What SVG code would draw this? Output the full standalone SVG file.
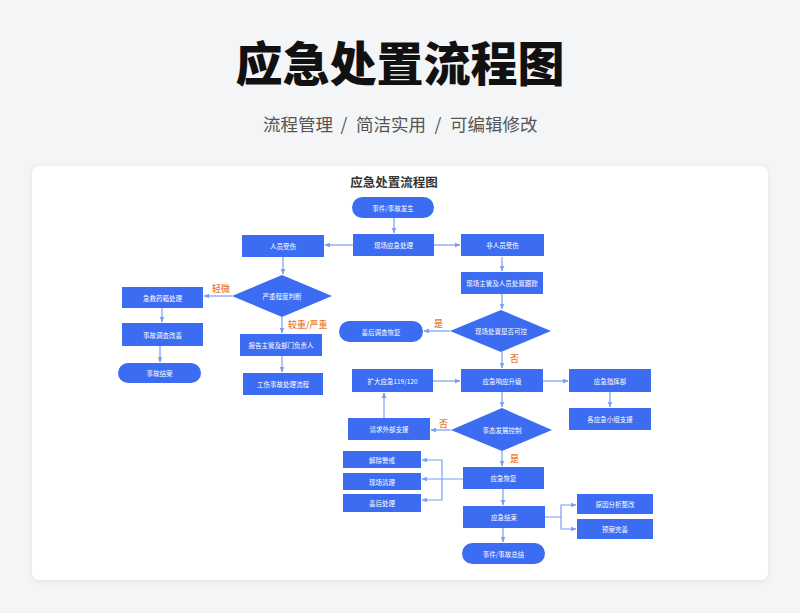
<svg xmlns="http://www.w3.org/2000/svg" width="800" height="613" viewBox="0 0 800 613">
<defs>
<style>
.t{font-family:"Noto Sans CJK SC","Noto Sans",sans-serif;}
.st{font-family:"Noto Sans CJK SC","Noto Sans",sans-serif;font-size:17.5px;fill:#555;}
.n rect,.n path{fill:#3b6cf2;}
.n text{font-family:"Noto Sans CJK SC","Noto Sans",sans-serif;font-size:6.5px;fill:#ffffff;text-anchor:middle;dominant-baseline:central;}
.c path{fill:none;stroke:#7a9ef2;stroke-width:1.2;}
.lb{font-family:"Noto Sans CJK SC","Noto Sans",sans-serif;font-size:9px;fill:#e8792c;font-weight:500;}
</style>
<marker id="ar" viewBox="0 0 10 10" refX="9" refY="5" markerWidth="6" markerHeight="6" orient="auto" markerUnits="userSpaceOnUse">
<path d="M0,1 L10,5 L0,9 z" fill="#7a9ef2"/>
</marker>
<filter id="sh" x="-5%" y="-5%" width="110%" height="110%">
<feDropShadow dx="0" dy="1" stdDeviation="3" flood-color="#000" flood-opacity="0.08"/>
</filter>
</defs>
<rect x="0" y="0" width="800" height="613" fill="#f4f5f7"/>
<text class="t" x="400" y="81" font-size="47" font-weight="900" fill="#111" text-anchor="middle">应急处置流程图</text>
<text class="st" x="263" y="131">流程管理</text>
<text class="st" x="344" y="131" text-anchor="middle">/</text>
<text class="st" x="356" y="131">简洁实用</text>
<text class="st" x="438" y="131" text-anchor="middle">/</text>
<text class="st" x="450" y="131">可编辑修改</text>
<rect x="32" y="166" width="736" height="414" rx="8" fill="#ffffff" filter="url(#sh)"/>
<text class="t" x="394" y="187" font-size="12.5" font-weight="bold" fill="#333" text-anchor="middle">应急处置流程图</text>

<g class="c">
<path d="M394,218 V233" marker-end="url(#ar)"/>
<path d="M353,245 H325" marker-end="url(#ar)"/>
<path d="M434,245 H460" marker-end="url(#ar)"/>
<path d="M283,257 V274" marker-end="url(#ar)"/>
<path d="M232,296 H204" marker-end="url(#ar)"/>
<path d="M282,317 V333" marker-end="url(#ar)"/>
<path d="M162,308 V322" marker-end="url(#ar)"/>
<path d="M160,346 V362" marker-end="url(#ar)"/>
<path d="M282,356 V372" marker-end="url(#ar)"/>
<path d="M502,257 V271" marker-end="url(#ar)"/>
<path d="M502,294 V309" marker-end="url(#ar)"/>
<path d="M450,331 H424" marker-end="url(#ar)"/>
<path d="M502,352 V368" marker-end="url(#ar)"/>
<path d="M543,381 H568" marker-end="url(#ar)"/>
<path d="M610,392 V407" marker-end="url(#ar)"/>
<path d="M502,392 V407" marker-end="url(#ar)"/>
<path d="M451,430 H431" marker-end="url(#ar)"/>
<path d="M384,418 V393" marker-end="url(#ar)"/>
<path d="M433,381 H460" marker-end="url(#ar)"/>
<path d="M502,451 V466" marker-end="url(#ar)"/>
<path d="M463,479 H422" marker-end="url(#ar)"/>
<path d="M442,479 V460 H422" marker-end="url(#ar)"/>
<path d="M442,479 V500 H422" marker-end="url(#ar)"/>
<path d="M503,489 V505" marker-end="url(#ar)"/>
<path d="M545,517 H561 V505 H576" marker-end="url(#ar)"/>
<path d="M561,517 V529 H576" marker-end="url(#ar)"/>
<path d="M503,528 V542" marker-end="url(#ar)"/>
</g>

<text class="lb" x="212" y="292">轻微</text>
<text class="lb" x="288" y="328">较重/严重</text>
<text class="lb" x="434" y="327">是</text>
<text class="lb" x="510" y="362">否</text>
<text class="lb" x="439" y="427">否</text>
<text class="lb" x="510" y="462">是</text>

<g id="n1" class="n"><rect x="352" y="197" width="82" height="21" rx="10.5"/><text x="393" y="207.5">事件/事故发生</text></g>
<g id="n2" class="n"><rect x="353" y="234" width="81" height="22"/><text x="393.5" y="245">现场应急处理</text></g>
<g id="n3" class="n"><rect x="242" y="235" width="82" height="22"/><text x="283" y="246">人员受伤</text></g>
<g id="n4" class="n"><rect x="461" y="234" width="83" height="22"/><text x="502.5" y="245">非人员受伤</text></g>
<g id="n5" class="n"><path d="M282,275 L332,296 L282,317 L232,296 Z"/><text x="282" y="296">严重程度判断</text></g>
<g id="n6" class="n"><rect x="122" y="287" width="81" height="21"/><text x="162.5" y="297.5">急救药箱处理</text></g>
<g id="n7" class="n"><rect x="122" y="323" width="81" height="23"/><text x="162.5" y="334.5">事故调查改善</text></g>
<g id="n8" class="n"><rect x="118" y="363" width="83" height="20" rx="10"/><text x="159.5" y="373">事故结案</text></g>
<g id="n9" class="n"><rect x="240" y="334" width="82" height="22"/><text x="281" y="345">报告主管及部门负责人</text></g>
<g id="n10" class="n"><rect x="243" y="373" width="80" height="22"/><text x="283" y="384">工伤事故处理流程</text></g>
<g id="n11" class="n"><rect x="461" y="272" width="82" height="22"/><text x="502" y="283">现场主管及人员处置跟踪</text></g>
<g id="n12" class="n"><path d="M501,310 L551,331 L501,352 L450,331 Z"/><text x="501" y="331">现场处置是否可控</text></g>
<g id="n13" class="n"><rect x="339" y="321" width="84" height="21" rx="10.5"/><text x="381" y="331.5">善后调查恢复</text></g>
<g id="n14" class="n"><rect x="461" y="369" width="82" height="23"/><text x="502" y="380.5">应急响应升级</text></g>
<g id="n15" class="n"><rect x="352" y="369" width="81" height="23"/><text x="392.5" y="380.5">扩大应急119/120</text></g>
<g id="n16" class="n"><rect x="569" y="369" width="82" height="23"/><text x="610" y="380.5">应急指挥部</text></g>
<g id="n17" class="n"><rect x="569" y="408" width="82" height="22"/><text x="610" y="419">各应急小组支援</text></g>
<g id="n18" class="n"><path d="M502,408 L552,430 L502,451 L451,430 Z"/><text x="502" y="430">事态发展控制</text></g>
<g id="n19" class="n"><rect x="348" y="418" width="82" height="22"/><text x="389" y="429">请求外部支援</text></g>
<g id="n20" class="n"><rect x="463" y="467" width="81" height="22"/><text x="503.5" y="478">应急恢复</text></g>
<g id="n21" class="n"><rect x="343" y="451" width="78" height="17"/><text x="382" y="459.5">解除警戒</text></g>
<g id="n22" class="n"><rect x="343" y="473" width="78" height="17"/><text x="382" y="481.5">现场清理</text></g>
<g id="n23" class="n"><rect x="343" y="494" width="78" height="18"/><text x="382" y="503">善后处理</text></g>
<g id="n24" class="n"><rect x="463" y="506" width="82" height="22"/><text x="504" y="517">应急结束</text></g>
<g id="n25" class="n"><rect x="577" y="494" width="76" height="20"/><text x="615" y="504">原因分析整改</text></g>
<g id="n26" class="n"><rect x="577" y="519" width="76" height="20"/><text x="615" y="529">预案完善</text></g>
<g id="n27" class="n"><rect x="462" y="543" width="83" height="21" rx="10.5"/><text x="503.5" y="553.5">事件/事故总结</text></g>
</svg>
